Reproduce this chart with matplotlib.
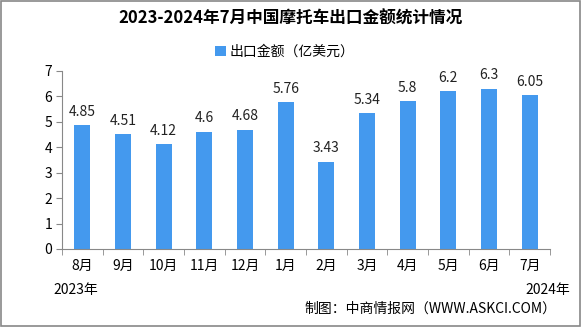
import matplotlib
matplotlib.use("Agg")
import matplotlib.pyplot as plt
from matplotlib.patches import Rectangle

plt.rcParams['font.family'] = ['Noto Sans CJK SC', 'DejaVu Sans']

categories = ['8月', '9月', '10月', '11月', '12月', '1月', '2月', '3月', '4月', '5月', '6月', '7月']
values = [4.85, 4.51, 4.12, 4.6, 4.68, 5.76, 3.43, 5.34, 5.8, 6.2, 6.3, 6.05]
value_labels = ['4.85', '4.51', '4.12', '4.6', '4.68', '5.76', '3.43', '5.34', '5.8', '6.2', '6.3', '6.05']
yticks = [0, 1, 2, 3, 4, 5, 6, 7]
title = '2023-2024年7月中国摩托车出口金额统计情况'
legend_label = '出口金额（亿美元）'
bar_color = '#4499EE'

W, H = 581, 327
fig = plt.figure(figsize=(W / 100, H / 100), dpi=100)
ax = fig.add_axes([62 / W, (H - 249) / H, (550 - 62) / W, (249 - 70.7) / H])

x = list(range(len(categories)))
ax.bar(x, values, width=0.4, color=bar_color, label=legend_label)
for xi, v, lab in zip(x, values, value_labels):
    ax.text(xi, v + 0.25, lab, ha='center', va='bottom', fontsize=10, color='#222222')

ax.set_xlim(-0.5, len(categories) - 0.5)
ax.set_ylim(0, 7)
ax.set_yticks(yticks)
ax.set_yticklabels([str(t) for t in yticks], fontsize=10)
ax.set_xticks(x)
ax.set_xticklabels(categories, fontsize=10)
ax.set_xticks([i - 0.5 for i in range(len(categories) + 1)], minor=True)
ax.tick_params(axis='x', which='major', length=0, pad=7)
ax.tick_params(axis='x', which='minor', length=4, color='#888888')
ax.tick_params(axis='y', length=4, color='#888888', pad=3)
for s in ['top', 'right']:
    ax.spines[s].set_visible(False)
ax.spines['left'].set_color('#888888')
ax.spines['bottom'].set_color('#888888')

fig.text(0.5, (H - 19) / H, title, ha='center', va='center', fontsize=12, fontweight='bold')
fig.legend(loc='center', bbox_to_anchor=(0.49, (H - 52) / H), frameon=False, fontsize=10,
           handlelength=0.8, handleheight=0.8, handletextpad=0.3)

fig.text(76 / W, (H - 290) / H, '2023年', ha='center', va='center', fontsize=10)
fig.text(548 / W, (H - 290) / H, '2024年', ha='center', va='center', fontsize=10)
fig.text(556 / W, (H - 309) / H, '制图：中商情报网（WWW.ASKCI.COM）', ha='right', va='center', fontsize=10)

fig.patches.append(Rectangle((0.002, 0.003), 0.996, 0.994, transform=fig.transFigure,
                             fill=False, edgecolor='#888888', linewidth=1.2))

fig.savefig('out.png', dpi=100)
